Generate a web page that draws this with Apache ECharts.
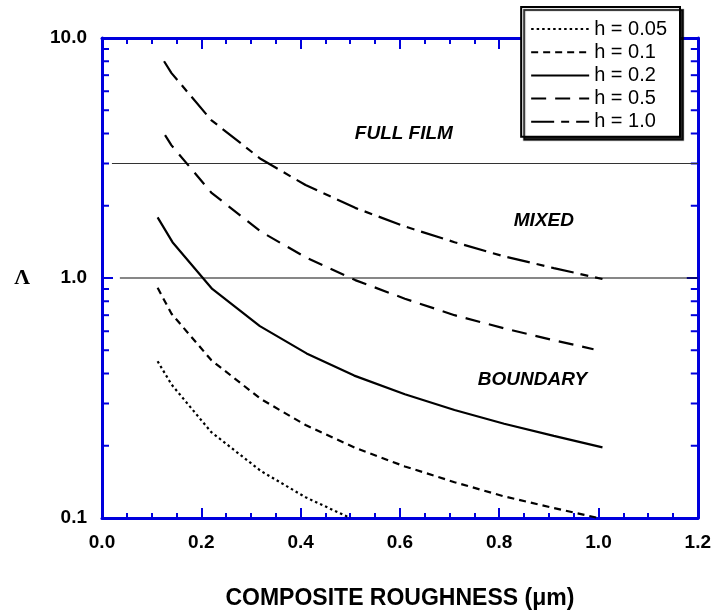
<!DOCTYPE html>
<html>
<head>
<meta charset="utf-8">
<script src="https://cdn.jsdelivr.net/npm/echarts@6/dist/echarts.min.js"></script>
<style>
html,body{margin:0;padding:0;background:#fff;}
#chart{width:714px;height:615px;}
</style>
</head>
<body>
<div id="chart"></div>
<script>
// ---- data ----
const seriesNames = ['h = 0.05', 'h = 0.1', 'h = 0.2', 'h = 0.5', 'h = 1.0'];
const h005 = [[0.112,0.45],[0.14,0.36],[0.22,0.228],[0.32,0.157],[0.41,0.122],[0.50,0.100]];
const h01  = [[0.112,0.91],[0.14,0.71],[0.22,0.455],[0.32,0.313],[0.41,0.244],[0.51,0.196],[0.61,0.164],[0.71,0.141],[0.81,0.123],[0.91,0.110],[1.00,0.100]];
const h02  = [[0.112,1.79],[0.142,1.41],[0.222,0.90],[0.318,0.63],[0.412,0.485],[0.508,0.392],[0.61,0.328],[0.71,0.282],[0.81,0.247],[0.91,0.220],[1.008,0.197]];
const h05  = [[0.127,3.94],[0.14,3.57],[0.22,2.27],[0.32,1.56],[0.41,1.22],[0.51,0.98],[0.61,0.82],[0.71,0.70],[0.81,0.617],[0.91,0.55],[0.99,0.505]];
const h10  = [[0.125,8.0],[0.14,7.14],[0.22,4.55],[0.32,3.13],[0.41,2.44],[0.51,1.96],[0.61,1.64],[0.71,1.41],[0.81,1.23],[0.91,1.10],[1.008,0.99]];
const refLineFull  = [[0.02,3],[1.2,3]];
const refLineMixed = [[0.036,1],[1.2,1]];
const regionLabels = ['FULL FILM', 'MIXED', 'BOUNDARY'];
const regionPos = [[0.608,4.0],[0.89,1.74],[0.867,0.376]];
const xTickLabels = ['0.0','0.2','0.4','0.6','0.8','1.0','1.2'];
const yTickValues = [0.1, 1, 10];
const yTickLabels = ['0.1','1.0','10.0'];
const yMinorTicks = [0.2,0.3,0.4,0.5,0.6,0.7,0.8,0.9,2,3,4,5,6,7,8,9];

const BLUE = '#0000dd';
const FONT = '"Liberation Sans", Arial, sans-serif';

const chart = echarts.init(document.getElementById('chart'), null, {renderer:'canvas'});

function xAxisCfg(pos){
  const bottom = pos === 'bottom';
  return {
    type:'value', min:0, max:1.2, interval:0.2, position:pos,
    axisLine:{show:true, onZero:false, lineStyle:{color:BLUE, width:3}},
    axisTick:{show:true, inside:true, length: bottom?10:11, lineStyle:{color:BLUE, width:2}},
    minorTick:{show:true, splitNumber:4, length: bottom?5:6, lineStyle:{color:BLUE, width:2}},
    splitLine:{show:false}, minorSplitLine:{show:false},
    axisLabel:{show:bottom, margin:15, color:'#000', fontFamily:FONT, fontWeight:'bold', fontSize:19,
      formatter:v => xTickLabels[Math.round(v/0.2)]},
    name: bottom ? 'COMPOSITE ROUGHNESS (\u03bcm)' : '',
    nameLocation:'middle', nameGap:69,
    nameTextStyle:{color:'#000', fontFamily:FONT, fontWeight:'bold', fontSize:23}
  };
}
function yAxisCfg(pos){
  const left = pos === 'left';
  return {
    type:'log', logBase:10, min:0.1, max:10, position:pos,
    axisLine:{show:true, onZero:false, lineStyle:{color:BLUE, width:3}},
    axisTick:{show:true, inside:true, length:11, lineStyle:{color:BLUE, width:2}},
    splitLine:{show:false},
    axisLabel:{show:left, margin:15, color:'#000', fontFamily:FONT, fontWeight:'bold', fontSize:19,
      formatter:v => { const i = yTickValues.findIndex(t => Math.abs(t - v) < 1e-9*Math.max(1,v)); return i >= 0 ? yTickLabels[i] : ''; }},
    name: left ? '\u039b' : '',
    nameLocation:'middle', nameGap:72, nameRotate:0,
    nameTextStyle:{color:'#000', fontFamily:'"Liberation Serif", "Times New Roman", serif', fontWeight:'bold', fontSize:22, padding:[0,0,14,0]}
  };
}

const curveStyles = [
  {type:[2.5,3]},
  {type:[7,5]},
  {type:'solid'},
  {type:[15,9]},
  {type:[23,7,8,7]}
];
const curveData = [h005, h01, h02, h05, h10];

const curves = curveData.map((d,i) => ({
  name: seriesNames[i], type:'line', data:d, showSymbol:false, symbol:'none',
  lineStyle:{color:'#000', width:2.2, type:curveStyles[i].type},
  itemStyle:{color:'#000'}, z:3, silent:true, animation:false
}));

const option = {
  animation:false,
  backgroundColor:'#fff',
  grid:{left:102, right:14, top:38, bottom:87, containLabel:false},
  xAxis:[xAxisCfg('bottom'), xAxisCfg('top')],
  yAxis:[yAxisCfg('left'), yAxisCfg('right')],
  legend:{
    data:seriesNames, orient:'vertical', right:34, top:7,
    itemWidth:58, itemHeight:14, itemGap:3.2,
    padding:[12,13,5,9],
    backgroundColor:'#fff', borderColor:'#000', borderWidth:2, borderRadius:0,
    shadowColor:'rgba(0,0,0,0.85)', shadowBlur:1, shadowOffsetX:3, shadowOffsetY:3,
    itemStyle:{opacity:0, borderWidth:0},
    lineStyle:{width:2},
    textStyle:{color:'#000', fontFamily:FONT, fontSize:20, lineHeight:20, padding:[0,0,0,0]},
    selectedMode:false, z:10
  },
  series:[
    ...curves,
    {name:'ref3', type:'line', data:refLineFull, showSymbol:false, symbol:'none', lineStyle:{color:'#333', width:1.2}, z:2, silent:true},
    {name:'ref1', type:'line', data:refLineMixed, showSymbol:false, symbol:'none', lineStyle:{color:'#111', width:1.2}, z:2, silent:true},
    {name:'regions', type:'scatter', symbolSize:0, silent:true,
      itemStyle:{opacity:1, color:'#000'},
      data: regionPos.map((p,i) => ({value:p, name:regionLabels[i]})),
      label:{show:true, position:'inside', formatter:p => p.name, color:'#000', opacity:1, fontFamily:FONT,
        fontWeight:'bold', fontStyle:'italic', fontSize:19}},
    {name:'yminor', type:'custom', silent:true, clip:false, z:1,
      data: yMinorTicks.map(v => [0, v]),
      renderItem:(params, api) => {
        const v = api.value(1);
        const pl = api.coord([0, v]);
        const pr = api.coord([1.2, v]);
        const st = {stroke:BLUE, lineWidth:2};
        return {type:'group', children:[
          {type:'line', shape:{x1:pl[0], y1:pl[1], x2:pl[0]+7, y2:pl[1]}, style:st},
          {type:'line', shape:{x1:pr[0]-7, y1:pr[1], x2:pr[0], y2:pr[1]}, style:st}
        ]};
      }}
  ]
};
chart.setOption(option);
</script>
</body>
</html>
